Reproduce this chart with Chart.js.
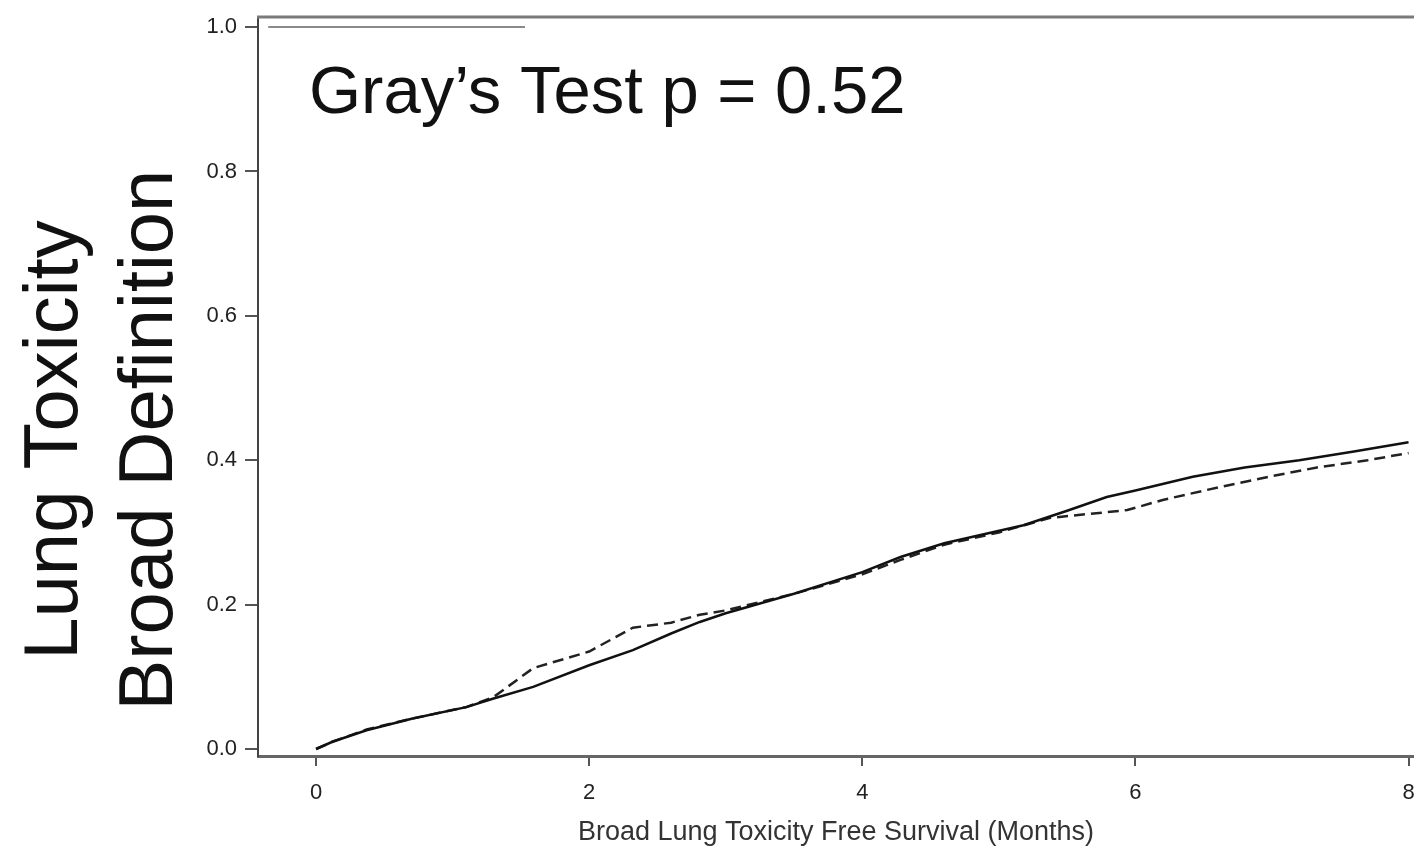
<!DOCTYPE html>
<html>
<head>
<meta charset="utf-8">
<script src="https://cdn.jsdelivr.net/npm/chart.js@4.4.1/dist/chart.umd.min.js"></script>
<style>
  html, body { margin: 0; padding: 0; background: #fff; overflow: hidden; }
</style>
</head>
<body>
<canvas id="chart" width="1414" height="859"></canvas>
<script>
// values
const monthsSolid   = [0, 0.12, 0.37, 0.7, 1.1, 1.3, 1.59, 2.0, 2.32, 2.6, 2.81, 3.0, 3.5, 4.0, 4.28, 4.6, 5.18, 5.5, 5.79, 6.0, 6.42, 6.8, 7.2, 7.6, 8.0];
const incidenceSolid = [0, 0.01, 0.026, 0.042, 0.058, 0.07, 0.086, 0.116, 0.137, 0.16, 0.176, 0.188, 0.215, 0.245, 0.266, 0.285, 0.31, 0.33, 0.349, 0.358, 0.377, 0.39, 0.40, 0.412, 0.425];
const monthsDashed   = [0, 0.12, 0.37, 0.7, 1.1, 1.3, 1.59, 2.0, 2.32, 2.6, 2.81, 3.0, 3.5, 4.0, 4.28, 4.6, 5.0, 5.37, 5.94, 6.2, 6.62, 7.0, 7.33, 7.7, 8.0];
const incidenceDashed = [0, 0.01, 0.027, 0.042, 0.058, 0.072, 0.112, 0.135, 0.168, 0.175, 0.186, 0.192, 0.215, 0.242, 0.262, 0.283, 0.30, 0.32, 0.331, 0.345, 0.363, 0.378, 0.39, 0.40, 0.41];
const topLineMonths = [-0.35, 1.53];
const topLineValues = [1.0, 1.0];
const xTicks = [0, 2, 4, 6, 8];
const yTicks = [0, 0.2, 0.4, 0.6, 0.8, 1.0];
const yTitle = ["Lung Toxicity", "Broad Definition"];
const xTitle = "Broad Lung Toxicity Free Survival (Months)";
const testLabel = "Gray\u2019s Test p = 0.52";

const pts = (xs, ys) => xs.map((x, i) => ({ x: x, y: ys[i] }));
const sansFont = '"Liberation Sans", Arial, sans-serif';

// frame top edge, big y title and the test note
const extras = {
  id: 'extras',
  afterDraw(chart) {
    const ctx = chart.ctx;
    const area = chart.chartArea;
    ctx.save();
    ctx.strokeStyle = '#7a7a7a';
    ctx.lineWidth = 3;
    ctx.beginPath();
    ctx.moveTo(area.left - 1, area.top);
    ctx.lineTo(chart.width, area.top);
    ctx.stroke();

    ctx.fillStyle = '#111';
    ctx.font = '76px ' + sansFont;
    ctx.textAlign = 'center';
    ctx.textBaseline = 'alphabetic';
    [77, 172].forEach((bx, i) => {
      ctx.save();
      ctx.translate(bx, 440);
      ctx.rotate(-Math.PI / 2);
      ctx.fillText(yTitle[i], 0, 0);
      ctx.restore();
    });

    ctx.font = '67px ' + sansFont;
    ctx.textAlign = 'left';
    ctx.fillText(testLabel, 309, 113);
    ctx.restore();
  }
};

new Chart(document.getElementById('chart'), {
  type: 'line',
  data: {
    datasets: [
      {
        label: 'solid',
        data: pts(monthsSolid, incidenceSolid),
        borderColor: '#111',
        borderWidth: 2.5,
        pointRadius: 0,
        tension: 0,
      },
      {
        label: 'dashed',
        data: pts(monthsDashed, incidenceDashed),
        borderColor: '#222',
        borderWidth: 2.5,
        borderDash: [11, 6],
        pointRadius: 0,
        tension: 0,
      },
      {
        label: 'top',
        data: pts(topLineMonths, topLineValues),
        borderColor: '#8a8a8a',
        borderWidth: 2,
        pointRadius: 0,
      },
    ],
  },
  options: {
    responsive: false,
    animation: false,
    layout: { padding: { top: 17, left: 0, right: 0, bottom: 0 } },
    plugins: {
      legend: { display: false },
      tooltip: { enabled: false },
    },
    scales: {
      x: {
        type: 'linear',
        min: -0.425,
        max: 8.04,
        afterBuildTicks: (s) => { s.ticks = xTicks.map(v => ({ value: v })); },
        afterFit: (s) => { s.height = 103; s.paddingLeft = 0; s.paddingRight = 0; },
        ticks: {
          color: '#222',
          font: { family: sansFont, size: 22 },
          padding: 14,
          maxRotation: 0,
        },
        grid: {
          drawOnChartArea: false,
          drawTicks: true,
          tickLength: 10,
          color: '#555',
          lineWidth: 2,
        },
        border: { display: true, color: '#666', width: 3 },
        title: {
          display: true,
          text: xTitle,
          color: '#333',
          font: { family: sansFont, size: 27 },
          padding: { top: 0, bottom: 10 },
        },
      },
      y: {
        type: 'linear',
        min: -0.0097,
        max: 1.014,
        afterBuildTicks: (s) => { s.ticks = yTicks.map(v => ({ value: v })); },
        afterFit: (s) => { s.width = 258; s.paddingTop = 0; s.paddingBottom = 0; },
        ticks: {
          color: '#222',
          font: { family: sansFont, size: 22 },
          padding: 8,
          callback: (v) => Number(v).toFixed(1),
        },
        grid: {
          drawOnChartArea: false,
          drawTicks: true,
          tickLength: 13,
          color: '#555',
          lineWidth: 2,
        },
        border: { display: true, color: '#444', width: 2 },
      },
    },
  },
  plugins: [extras],
});
</script>
</body>
</html>
